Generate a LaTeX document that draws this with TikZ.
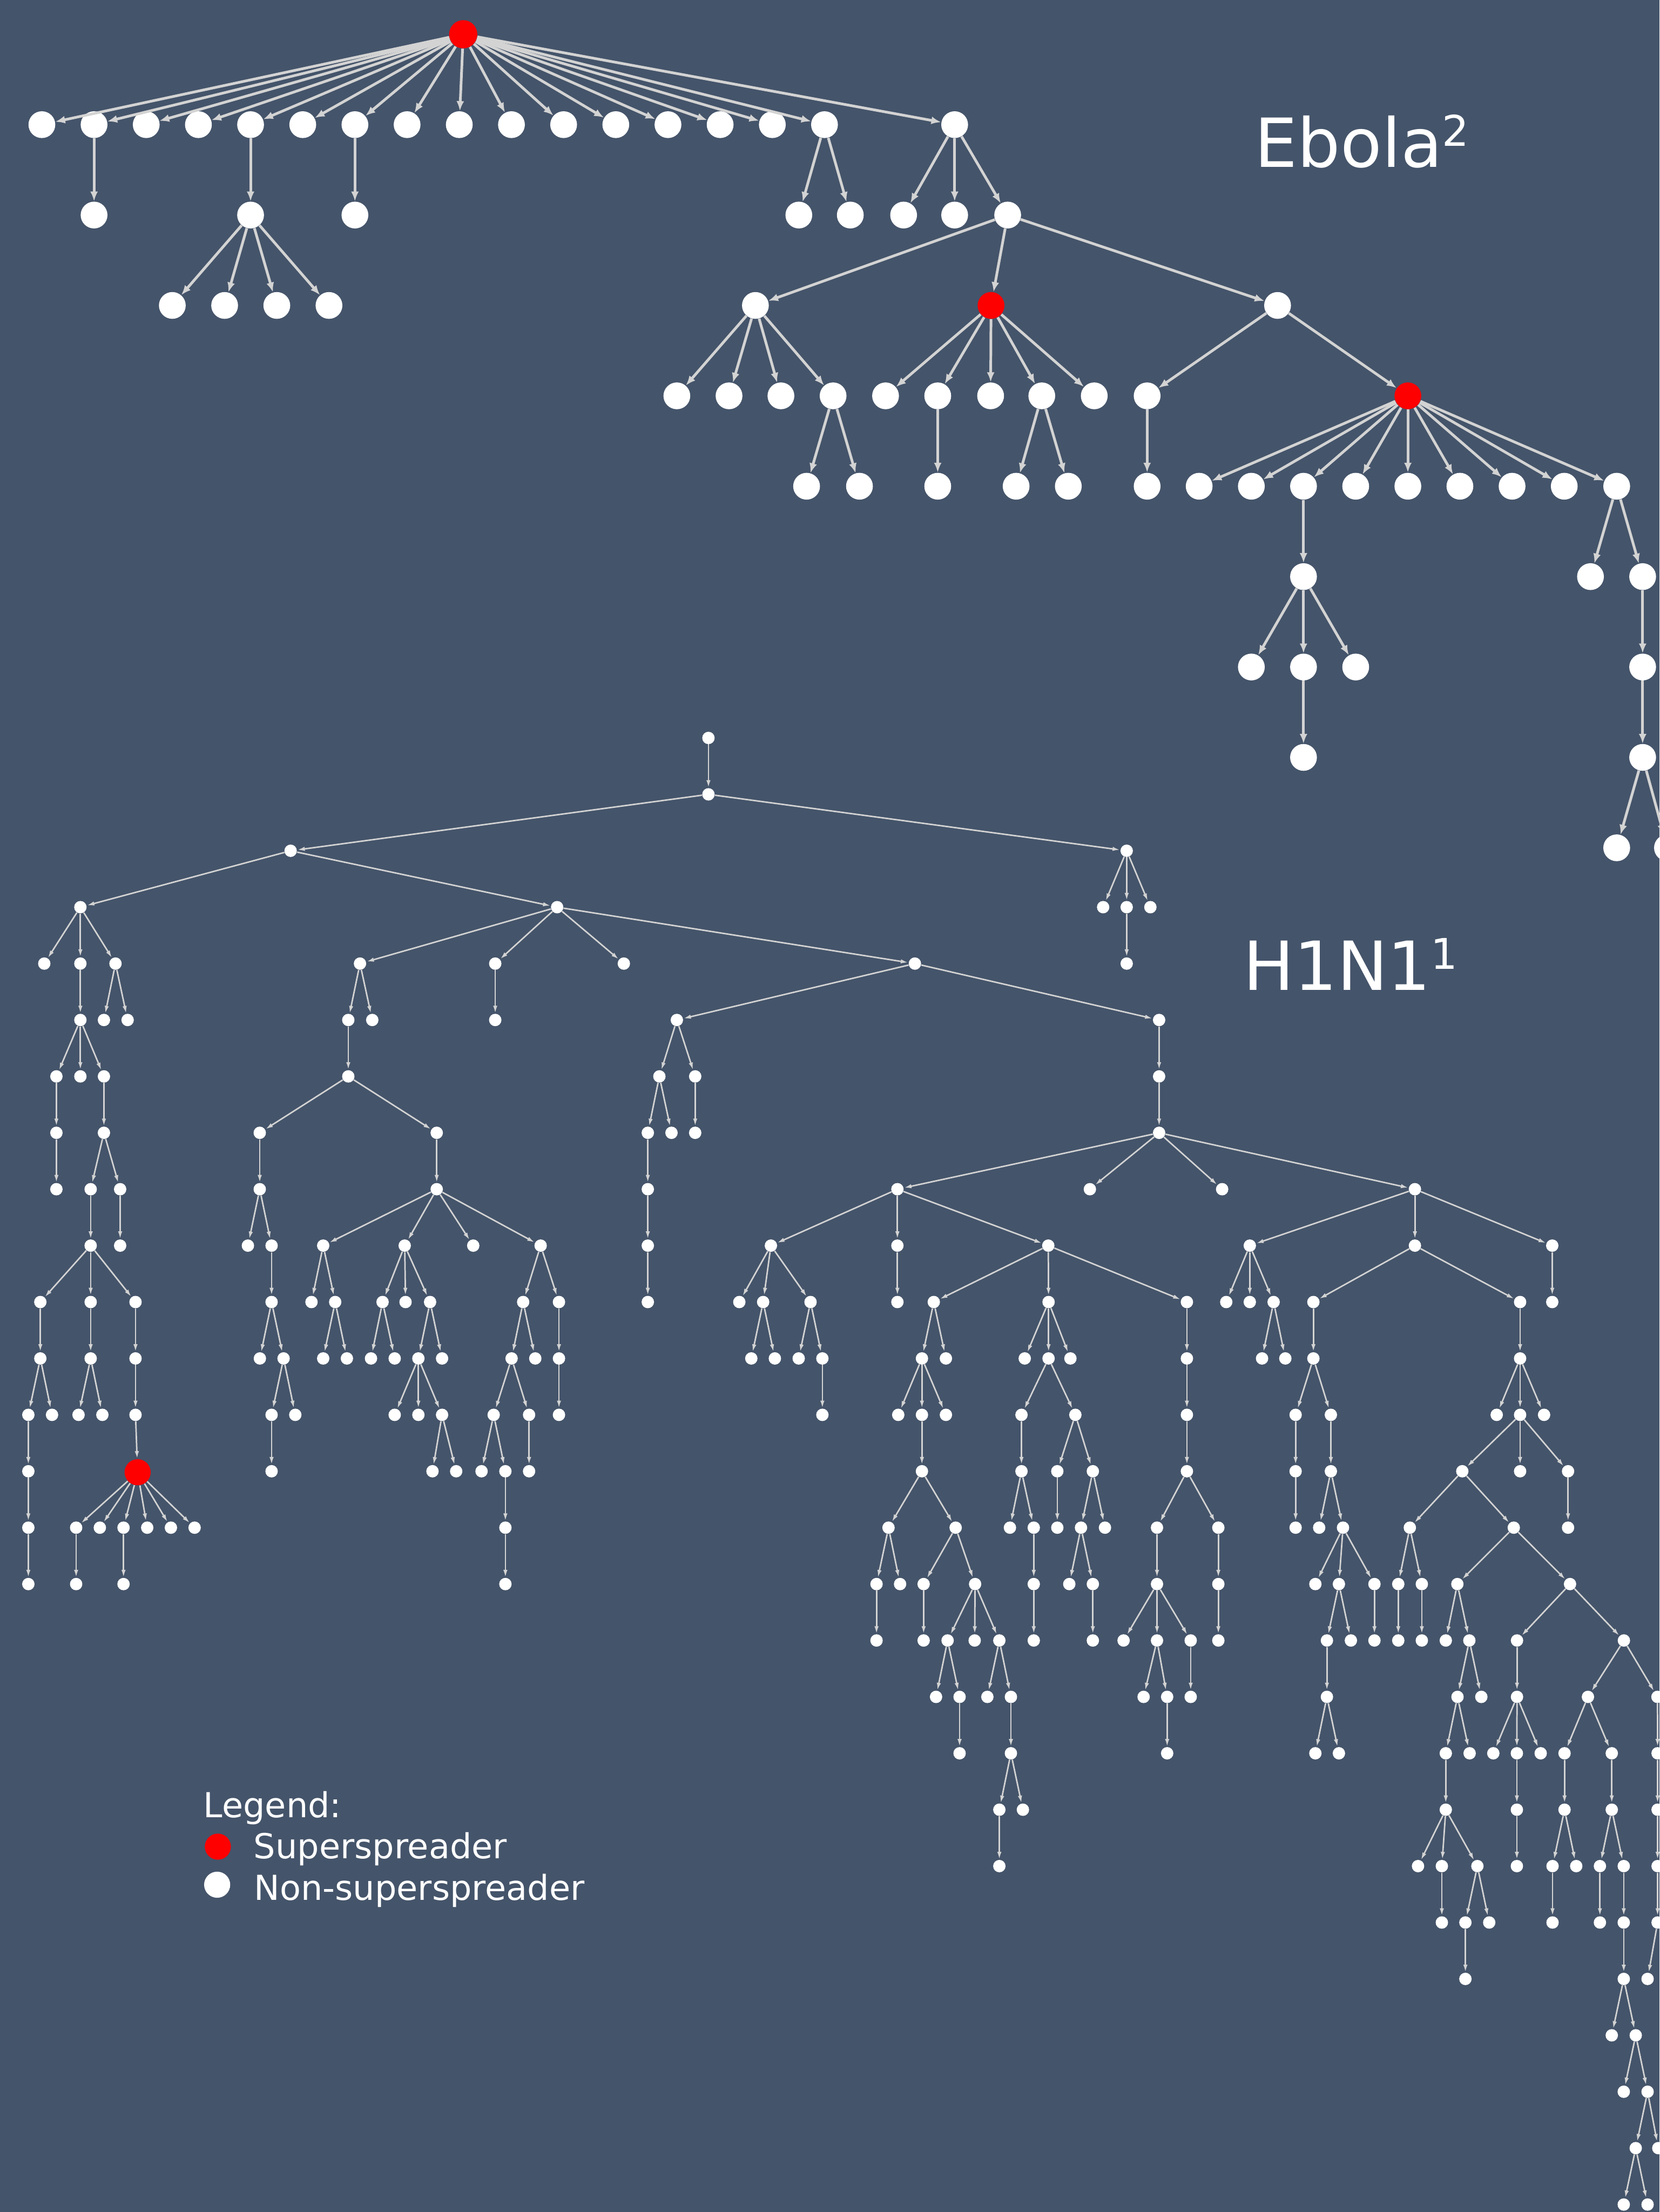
\documentclass[tikz,border=0pt]{standalone}
\usepackage{fontspec}
\setmainfont{DejaVu Sans}
\usetikzlibrary{arrows.meta}
\definecolor{bg}{HTML}{44546A}
\definecolor{edgec}{HTML}{D3D3D3}
\definecolor{ssred}{HTML}{FF0000}
\begin{document}
\begin{tikzpicture}[x=1pt,y=-1pt,
  enode/.style={circle,fill=white,minimum size=19pt,inner sep=0pt},
  ered/.style={circle,fill=ssred,minimum size=19pt,inner sep=0pt},
  hnode/.style={circle,fill=white,minimum size=8.8pt,inner sep=0pt},
  hred/.style={circle,fill=ssred,minimum size=18.5pt,inner sep=0pt},
  eedge/.style={draw=edgec,line width=1.9pt,-{Latex[length=7pt,width=5.5pt]}},
  hedge/.style={draw=edgec,line width=1.05pt,-{Latex[length=5.5pt,width=3pt]}},
  title/.style={anchor=base west,inner sep=0pt,text=white,font=\fontsize{48}{48}\selectfont},
  legtext/.style={anchor=base west,inner sep=0pt,text=white,font=\fontsize{24.4}{24.4}\selectfont}]
\fill[bg] (0,0) rectangle (1177,1568.6);
\useasboundingbox (0,0) rectangle (1177,1568.6);

% ---------------- Ebola tree ----------------
\def\elist{e1/29.7/1/e0, e2/66.7/1/e0, e3/103.7/1/e0, e4/140.7/1/e0, e5/177.7/1/e0, e6/214.7/1/e0, e7/251.7/1/e0, e8/288.7/1/e0, e9/325.7/1/e0, e10/362.7/1/e0, e11/399.7/1/e0, e12/436.7/1/e0, e13/473.7/1/e0, e14/510.7/1/e0, e15/547.7/1/e0, e16/584.7/1/e0, e17/677/1/e0,
e18/66.7/2/e2, e19/177.7/2/e5, e20/251.7/2/e7, e21/566.5/2/e16, e22/603/2/e16, e23/640.8/2/e17, e24/677/2/e17, e25/714.6/2/e17,
e26/122.2/3/e19, e27/159.3/3/e19, e28/196.3/3/e19, e29/233.3/3/e19, e30/535.7/3/e25, e32/906/3/e25,
e33/480/4/e30, e34/517/4/e30, e35/553.8/4/e30, e36/590.8/4/e30,
e37/628/4/e31, e38/665/4/e31, e39/702.5/4/e31, e40/738.8/4/e31, e41/776/4/e31,
e42/813.5/4/e32,
e44/572/5/e36, e45/609.5/5/e36, e46/665/5/e38, e47/720.6/5/e40, e48/757.6/5/e40, e49/813.5/5/e42,
e50/850.4/5/e43, e51/887.4/5/e43, e52/924.4/5/e43, e53/961.4/5/e43, e54/998.4/5/e43, e55/1035.3/5/e43, e56/1072.3/5/e43, e57/1109.3/5/e43, e58/1146.5/5/e43,
e59/924.4/6/e52, e60/1127.9/6/e58, e61/1164.9/6/e58,
e62/887.4/7/e59, e63/924.4/7/e59, e64/961.4/7/e59, e65/1164.9/7/e61,
e66/924.4/8/e63, e67/1164.9/8/e65,
e68/1146.5/9/e67, e69/1182.5/9/e67}

\node[ered,minimum size=20pt] (e0) at (328.5,24.3) {};
\node[ered] (e31) at (702.8,{24.3+64.1*3}) {};
\node[ered] (e43) at (998.4,{24.3+64.1*4}) {};
\foreach \n/\x/\lv/\p in \elist {\node[enode] (\n) at (\x,{24.3+64.1*\lv}) {};}
\foreach \n/\x/\lv/\p in \elist {\draw[eedge] (\p) -- (\n);}
\draw[eedge] (e25) -- (e31);
\draw[eedge] (e32) -- (e43);

% ---------------- H1N1 tree ----------------
\def\hlist{h1/502.4/1/h0,
h2/206.1/2/h1, h3/799/2/h1,
h4/782.3/3/h3, h5/799/3/h3, h6/815.8/3/h3, h7/799/4/h5,
h8/57/3/h2, h9/395.1/3/h2,
h10/31.4/4/h8, h11/57/4/h8, h12/81.9/4/h8,
h13/57/5/h11, h14/73.7/5/h12, h15/90.5/5/h12,
h16/40/6/h13, h17/57/6/h13, h18/73.7/6/h13,
h19/40/7/h16, h20/40/8/h19,
h21/73.7/7/h18, h22/64.3/8/h21, h23/85.2/8/h21,
h24/64.3/9/h22, h25/85.2/9/h23,
h26/28.6/10/h24, h27/64.3/10/h24, h28/96.1/10/h24,
h29/28.6/11/h26, h30/20.1/12/h29, h31/36.9/12/h29,
h32/20.1/13/h30, h33/20.1/14/h32, h34/20.1/15/h33,
h35/64.3/11/h27, h36/55.7/12/h35, h37/72.6/12/h35,
h38/96.1/11/h28, h39/96.1/12/h38,
h41/54/14/h40, h42/70.8/14/h40, h43/87.6/14/h40, h44/104.4/14/h40, h45/121.2/14/h40, h46/138/14/h40,
h47/54/15/h41, h48/87.6/15/h43,
h49/255.3/4/h9, h50/351.2/4/h9, h51/442.4/4/h9, h52/648.8/4/h9,
h53/247/5/h49, h54/264/5/h49, h55/351.2/5/h50,
h56/247/6/h53, h57/184.2/7/h56, h58/309.7/7/h56,
h59/184.2/8/h57, h60/175.8/9/h59, h61/192.6/9/h59,
h62/192.6/10/h61, h63/184.3/11/h62, h64/201.1/11/h62,
h65/192.6/12/h64, h66/209.4/12/h64, h67/192.6/13/h65,
h68/309.7/8/h58,
h69/229.2/9/h68, h70/287/9/h68, h71/335.6/9/h68, h72/383.4/9/h68,
h73/220.9/10/h69, h74/237.7/10/h69, h75/229.2/11/h74, h76/246/11/h74,
h77/271.3/10/h70, h78/287.6/10/h70, h79/305/10/h70,
h80/263.1/11/h77, h81/279.9/11/h77,
h82/296.7/11/h79, h83/313.5/11/h79,
h84/279.9/12/h82, h85/296.7/12/h82, h86/313.5/12/h82,
h87/306.7/13/h86, h88/323.5/13/h86,
h89/371/10/h72, h90/396.4/10/h72,
h91/362.8/11/h89, h92/379.6/11/h89,
h93/350.1/12/h91, h94/375.2/12/h91,
h95/341.5/13/h93, h96/358.4/13/h93, h97/358.4/14/h96, h98/358.4/15/h97,
h99/375.2/13/h94,
h100/396.4/11/h90, h101/396.4/12/h100,
h102/480/5/h52, h103/822/5/h52,
h104/467.6/6/h102, h105/493/6/h102,
h106/459.4/7/h104, h107/476.2/7/h104,
h108/459.4/8/h106, h109/459.4/9/h108, h110/459.4/10/h109,
h111/493/7/h105,
h112/822/6/h103, h113/822/7/h112,
h114/636.4/8/h113, h115/772.9/8/h113, h116/866.7/8/h113, h117/1003.4/8/h113,
h118/546.7/9/h114, h119/636.4/9/h114, h120/743.4/9/h114,
h121/524.3/10/h118, h122/541.2/10/h118, h123/574.8/10/h118,
h124/532.8/11/h122, h125/549.5/11/h122,
h126/566.4/11/h123, h127/583.2/11/h123, h128/583.2/12/h127,
h129/636.4/10/h119,
h130/662.2/10/h120, h131/743.6/10/h120, h132/841.7/10/h120,
h133/653.8/11/h130, h134/670.8/11/h130,
h135/637/12/h133, h136/653.8/12/h133, h137/670.8/12/h133,
h138/653.8/13/h136,
h139/630.1/14/h138, h140/677.7/14/h138,
h141/621.6/15/h139, h142/638.3/15/h139, h143/621.6/16/h141,
h144/655/15/h140, h145/691.5/15/h140, h146/655/16/h144,
h147/672/16/h145, h148/691.2/16/h145, h149/708.7/16/h145,
h150/663.8/17/h147, h151/680.5/17/h147, h152/680.5/18/h151,
h153/700.2/17/h149, h154/716.9/17/h149, h155/716.9/18/h154,
h156/708.7/19/h155, h157/725.4/19/h155, h158/708.7/20/h156,
h159/726.7/11/h131, h160/743.6/11/h131, h161/759.1/11/h131,
h162/724.4/12/h160, h163/762.6/12/h160,
h164/724.4/13/h162, h165/716.2/14/h164, h166/733.1/14/h164,
h167/733.1/15/h166, h168/733.1/16/h167,
h169/749.8/13/h163, h170/775/13/h163,
h171/749.8/14/h169, h172/766.6/14/h170, h173/783.6/14/h170,
h174/758.3/15/h172, h175/775/15/h172, h176/775/16/h175,
h177/841.7/11/h132, h178/841.7/12/h177, h179/841.7/13/h178,
h180/820.5/14/h179, h181/864/14/h179,
h182/820.5/15/h180,
h183/796.8/16/h182, h184/820.5/16/h182, h185/844.4/16/h182,
h186/811/17/h184, h187/827.7/17/h184, h188/844.4/17/h185, h284/827.7/18/h187,
h189/864/15/h181, h190/864/16/h189,
h191/886.3/9/h117, h192/1003.4/9/h117, h193/1100.8/9/h117,
h194/869.6/10/h191, h195/886.3/10/h191, h196/903.2/10/h191,
h197/895/11/h196, h198/911.5/11/h196,
h199/931.4/10/h192, h200/1078/10/h192, h201/1100.8/10/h193,
h202/931.4/11/h199, h203/918.8/12/h202, h204/943.8/12/h202,
h205/918.8/13/h203, h206/918.8/14/h205,
h207/943.8/13/h204, h208/935.5/14/h207, h209/952.4/14/h207,
h210/932.8/15/h209, h211/949.5/15/h209, h212/974.7/15/h209,
h213/941/16/h211, h214/958/16/h211, h215/941/17/h213,
h216/932.8/18/h215, h217/949.5/18/h215, h218/974.7/16/h212,
h219/1078/11/h200,
h220/1061.4/12/h219, h221/1078/12/h219, h222/1095/12/h219,
h223/1037/13/h221, h224/1078/13/h221, h225/1112/13/h221, h226/1112/14/h225,
h227/999.8/14/h223, h228/1073.5/14/h223,
h229/991.6/15/h227, h230/1008.3/15/h227, h231/991.6/16/h229, h232/1008.3/16/h230,
h233/1033.5/15/h228, h234/1113.4/15/h228,
h235/1025.3/16/h233, h236/1042/16/h233,
h237/1033.6/17/h236, h238/1050.5/17/h236,
h239/1075.8/16/h234, h240/1151.6/16/h234,
h241/1075.8/17/h239, h242/1126.1/17/h240, h243/1175.4/17/h240,
h244/1025.3/18/h237, h245/1042.2/18/h237, h246/1025.3/19/h244,
h247/1005.6/20/h246, h248/1022.5/20/h246, h249/1047.7/20/h246,
h250/1022.5/21/h248, h251/1039.2/21/h249, h252/1056.1/21/h249, h253/1039.2/22/h251,
h254/1059/18/h241, h255/1075.7/18/h241, h256/1092.6/18/h241,
h257/1075.7/19/h255, h258/1075.7/20/h257,
h259/1109.5/18/h242, h260/1143/18/h242,
h261/1109.5/19/h259, h262/1101/20/h261, h263/1117.8/20/h261, h264/1101/21/h262,
h265/1143/19/h260, h266/1134.6/20/h265, h267/1151.5/20/h265,
h268/1134.6/21/h266, h269/1151.5/21/h267, h270/1151.5/22/h269,
h271/1143/23/h270, h272/1160/23/h270,
h273/1151.5/24/h272, h274/1168.4/24/h272,
h275/1160/25/h274, h276/1176/25/h274,
h277/1151.5/26/h275, h278/1168.4/26/h275,
h279/1175.5/18/h243, h280/1175.5/19/h279, h281/1175.5/20/h280, h282/1175.5/21/h281, h283/1168.4/22/h282}

\node[hnode] (h0) at (502.4,523.3) {};
\node[hred] (h40) at (97.6,1044) {};
\foreach \n/\x/\lv/\p in \hlist {\node[hnode] (\n) at (\x,{523.3+40*\lv}) {};}
\foreach \n/\x/\lv/\p in \hlist {\draw[hedge] (\p) -- (\n);}
\draw[hedge] (h39) -- (h40);

% ---------------- titles ----------------
\node[title] (tebola) at (889.7,118.7) {Ebola\raisebox{15pt}{\fontsize{30}{30}\selectfont 2}};
\node[title] (th1n1) at (881.4,702.2) {H1N1\raisebox{15pt}{\fontsize{30}{30}\selectfont 1}};

% ---------------- legend ----------------
\node[legtext] (leg) at (144.1,1289) {Legend:};
\node[ered,minimum size=18.5pt] (lred) at (154.5,1309.5) {};
\node[enode,minimum size=18.5pt] (lwhite) at (154,1336.5) {};
\node[legtext] (lsup) at (179.7,1318) {Superspreader};
\node[legtext] (lnon) at (180,1347.5) {Non-superspreader};
\end{tikzpicture}
\end{document}
